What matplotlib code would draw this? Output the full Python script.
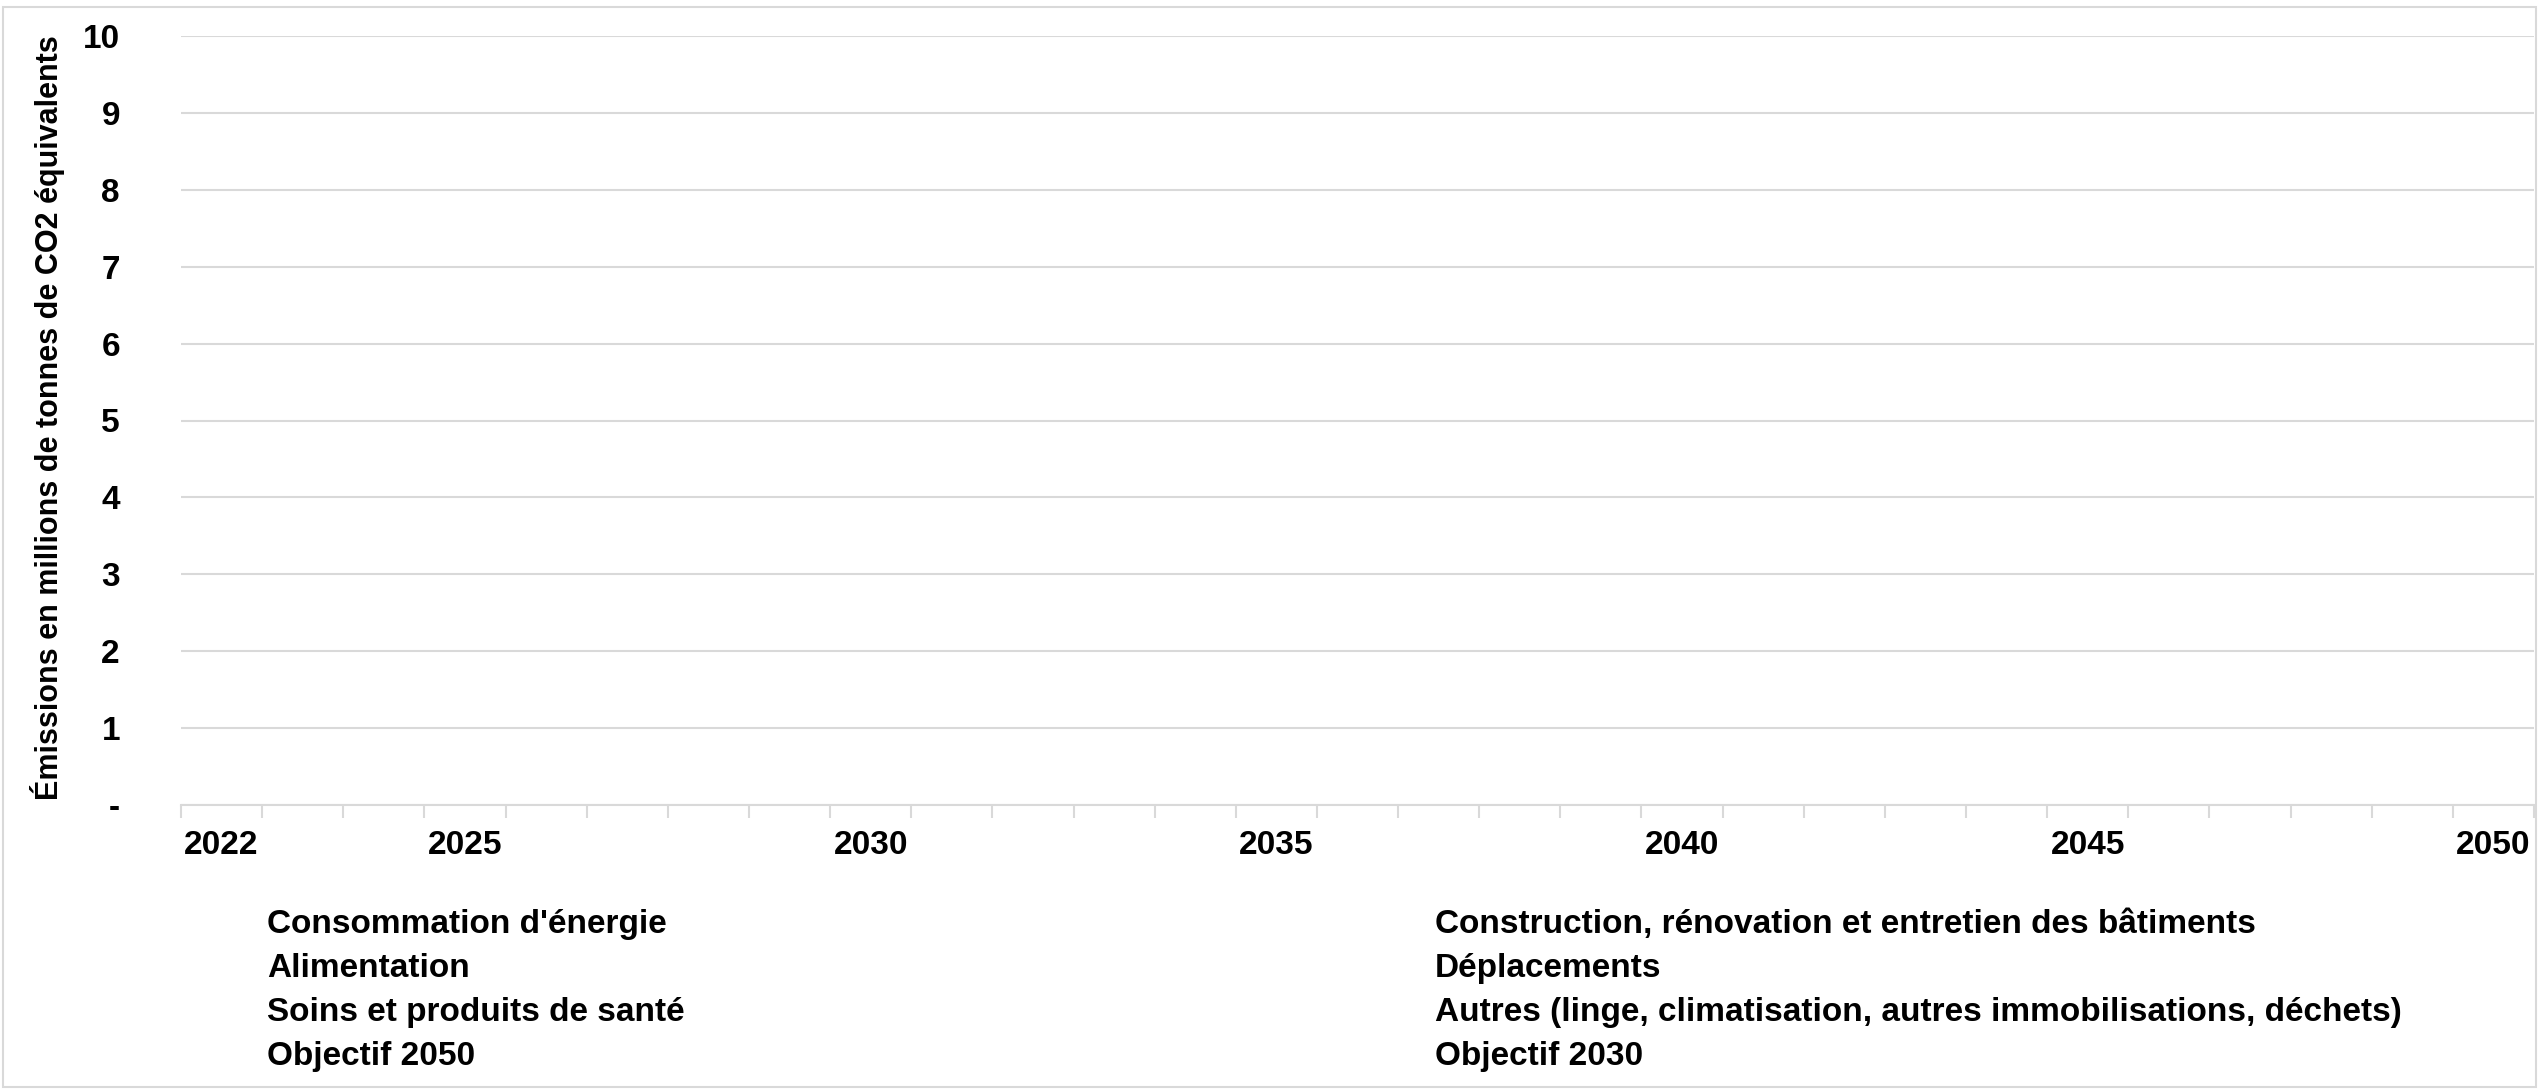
import matplotlib
matplotlib.use("Agg")
import matplotlib.pyplot as plt
from matplotlib.patches import Rectangle

# Annees (axe des categories) et etiquettes affichees
years = list(range(2022, 2051))
shown_years = [2022, 2025, 2030, 2035, 2040, 2045, 2050]
y_ticks = [0, 1, 2, 3, 4, 5, 6, 7, 8, 9, 10]
y_tick_labels = ["-", "1", "2", "3", "4", "5", "6", "7", "8", "9", "10"]

# Series : aucune valeur n'est affichee dans le graphique
consommation_energie = []
construction_batiments = []
alimentation = []
deplacements = []
soins_sante = []
autres = []
objectif_2050 = []
objectif_2030 = []

left_labels = ["Consommation d'énergie", "Alimentation",
               "Soins et produits de santé", "Objectif 2050"]
right_labels = ["Construction, rénovation et entretien des bâtiments",
                "Déplacements",
                "Autres (linge, climatisation, autres immobilisations, déchets)",
                "Objectif 2030"]

plt.rcParams['font.family'] = ['Liberation Sans', 'DejaVu Sans']
plt.rcParams['font.weight'] = 'bold'

fig = plt.figure(figsize=(25.39, 10.90), dpi=100)
ax = fig.add_axes([181 / 2539, 1 - 805 / 1090, (2534 - 181) / 2539, (805 - 36) / 1090])

grey = '#d9d9d9'
fig.patches.append(Rectangle((3 / 2539, 3 / 1090), 1 - 6 / 2539, 1 - 10 / 1090,
                             transform=fig.transFigure, fill=False,
                             edgecolor=grey, linewidth=1.5))

xs = list(range(len(years)))
left_series = [consommation_energie, alimentation, soins_sante, objectif_2050]
right_series = [construction_batiments, deplacements, autres, objectif_2030]
h_left = [ax.plot(xs[:len(v)], v, label=l)[0] for v, l in zip(left_series, left_labels)]
h_right = [ax.plot(xs[:len(v)], v, label=l)[0] for v, l in zip(right_series, right_labels)]

ax.set_xlim(-0.5, len(years) - 0.5)
ax.set_ylim(0, 10)
ax.set_yticks(y_ticks)
ax.set_yticklabels(y_tick_labels)
ax.tick_params(axis='y', length=0, pad=44, labelsize=24)
ax.yaxis.grid(True, color=grey, linewidth=1.5)
ax.set_axisbelow(True)

# graduations entre categories, etiquettes au centre
ax.set_xticks([i - 0.5 for i in range(len(years) + 1)])
ax.set_xticklabels([])
ax.tick_params(axis='x', which='major', length=9, width=1.5, color=grey)
ax.set_xticks(xs, minor=True)
ax.set_xticklabels([str(y) if y in shown_years else "" for y in years], minor=True)
ax.tick_params(axis='x', which='minor', length=0, pad=18, labelsize=24)

for s in ['top', 'right', 'left']:
    ax.spines[s].set_visible(False)
ax.spines['bottom'].set_color(grey)
ax.spines['bottom'].set_linewidth(1.5)

ax.set_ylabel("Émissions en millions de tonnes de CO2 équivalents", fontsize=22,
              fontweight='bold')
ax.yaxis.set_label_coords(48 / 2539, 1 - 418 / 1090, transform=fig.transFigure)
ax.yaxis.label.set_va('center')
ax.yaxis.label.set_ha('center')

leg1 = fig.legend(handles=h_left, loc='upper left', bbox_to_anchor=(267 / 2539, 1 - 909 / 1090),
                  frameon=False, handlelength=0, handletextpad=0, fontsize=24,
                  labelspacing=0.39, borderpad=0, borderaxespad=0)
leg2 = fig.legend(handles=h_right, loc='upper left', bbox_to_anchor=(1435 / 2539, 1 - 909 / 1090),
                  frameon=False, handlelength=0, handletextpad=0, fontsize=24,
                  labelspacing=0.39, borderpad=0, borderaxespad=0)

fig.savefig("out.png", dpi=100)
